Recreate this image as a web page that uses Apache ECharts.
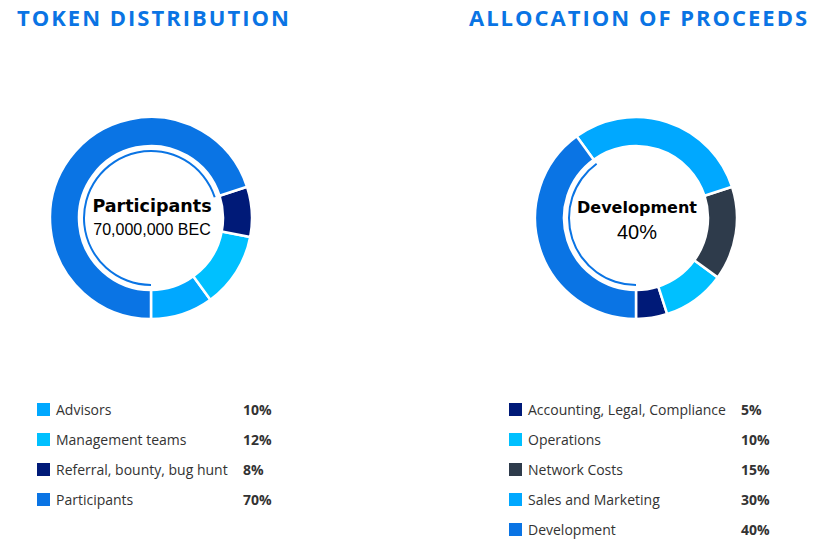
<!DOCTYPE html>
<html><head><meta charset="utf-8">
<script src="https://cdn.jsdelivr.net/npm/echarts@6/dist/echarts.min.js"></script>
<style>html,body{margin:0;padding:0;background:#fff}#c{width:825px;height:548px}
#c text[style*="22px"]{letter-spacing:2px}</style>
</head><body><div id="c"></div>
<script>
var tokenNames = ['Advisors', 'Management teams', 'Referral, bounty, bug hunt', 'Participants'];
var tokenValues = [10, 12, 8, 70];
var tokenColors = ['#00a8ff', '#00c0ff', '#001a78', '#0a74e4'];
var procNames = ['Accounting, Legal, Compliance', 'Operations', 'Network Costs', 'Sales and Marketing', 'Development'];
var procValues = [5, 10, 15, 30, 40];
var procColors = ['#001a78', '#00c0ff', '#2e3b4b', '#00a8ff', '#0a74e4'];

var chart = echarts.init(document.getElementById('c'), null, { renderer: 'svg' });
function pieData(names, vals, cols) {
  return names.map(function (n, i) { return { name: n, value: vals[i], itemStyle: { color: cols[i] } }; });
}
function arcData(names, vals, cols, idx) {
  return names.map(function (n, i) {
    return { name: n + ' ', value: vals[i], itemStyle: { color: i === idx ? cols[i] : 'rgba(0,0,0,0)' } };
  });
}
function legend(names, vals, left, w) {
  var map = {};
  names.forEach(function (n, i) { map[n] = vals[i]; });
  return {
    data: names, orient: 'vertical', left: left, top: 401, height: 147, padding: 0,
    itemWidth: 15, itemHeight: 15, itemGap: 13,
    icon: 'rect', selectedMode: false,
    formatter: function (n) { return '{n|' + n + '}{p|' + map[n] + '%}'; },
    textStyle: {
      rich: {
        n: { width: w, fontFamily: 'Open Sans', fontSize: 14, color: '#333333' },
        p: { fontFamily: 'Open Sans', fontSize: 14, fontWeight: 'bold', color: '#333333' }
      }
    }
  };
}
var pieCommon = { type: 'pie', startAngle: 270, clockwise: false, silent: true, label: { show: false }, labelLine: { show: false } };
chart.setOption({
  animation: false,
  title: [
    { text: 'TOKEN DISTRIBUTION', left: 17, top: 6, padding: 0, textStyle: { fontFamily: 'Open Sans', fontWeight: 'bold', fontSize: 22, color: '#0a74e4' } },
    { text: 'ALLOCATION OF PROCEEDS', left: 469, top: 6, padding: 0, textStyle: { fontFamily: 'Open Sans', fontWeight: 'bold', fontSize: 22, color: '#0a74e4' } }
  ],
  legend: [legend(tokenNames, tokenValues, 35, 187), legend(procNames, procValues, 507, 213)],
  graphic: [
    { type: 'text', style: { text: 'Participants', x: 152, y: 206, textAlign: 'center', textVerticalAlign: 'middle', font: 'bold 17.5px "DejaVu Sans"', fill: '#000' } },
    { type: 'text', style: { text: '70,000,000 BEC', x: 152, y: 229, textAlign: 'center', textVerticalAlign: 'middle', font: '16px Arial', fill: '#000' } },
    { type: 'text', style: { text: 'Development', x: 637, y: 207, textAlign: 'center', textVerticalAlign: 'middle', font: 'bold 16px "DejaVu Sans"', fill: '#000' } },
    { type: 'text', style: { text: '40%', x: 637, y: 232, textAlign: 'center', textVerticalAlign: 'middle', font: '20px Arial', fill: '#000' } }
  ],
  series: [
    Object.assign({}, pieCommon, { center: [151, 218], radius: [72, 101], itemStyle: { borderColor: '#fff', borderWidth: 2.5 }, data: pieData(tokenNames, tokenValues, tokenColors) }),
    Object.assign({}, pieCommon, { center: [151, 218], radius: [66, 68], data: arcData(tokenNames, tokenValues, tokenColors, 3) }),
    Object.assign({}, pieCommon, { center: [636, 218], radius: [72, 101], itemStyle: { borderColor: '#fff', borderWidth: 2.5 }, data: pieData(procNames, procValues, procColors) }),
    Object.assign({}, pieCommon, { center: [636, 218], radius: [66, 68], data: arcData(procNames, procValues, procColors, 4) })
  ]
});
</script></body></html>
